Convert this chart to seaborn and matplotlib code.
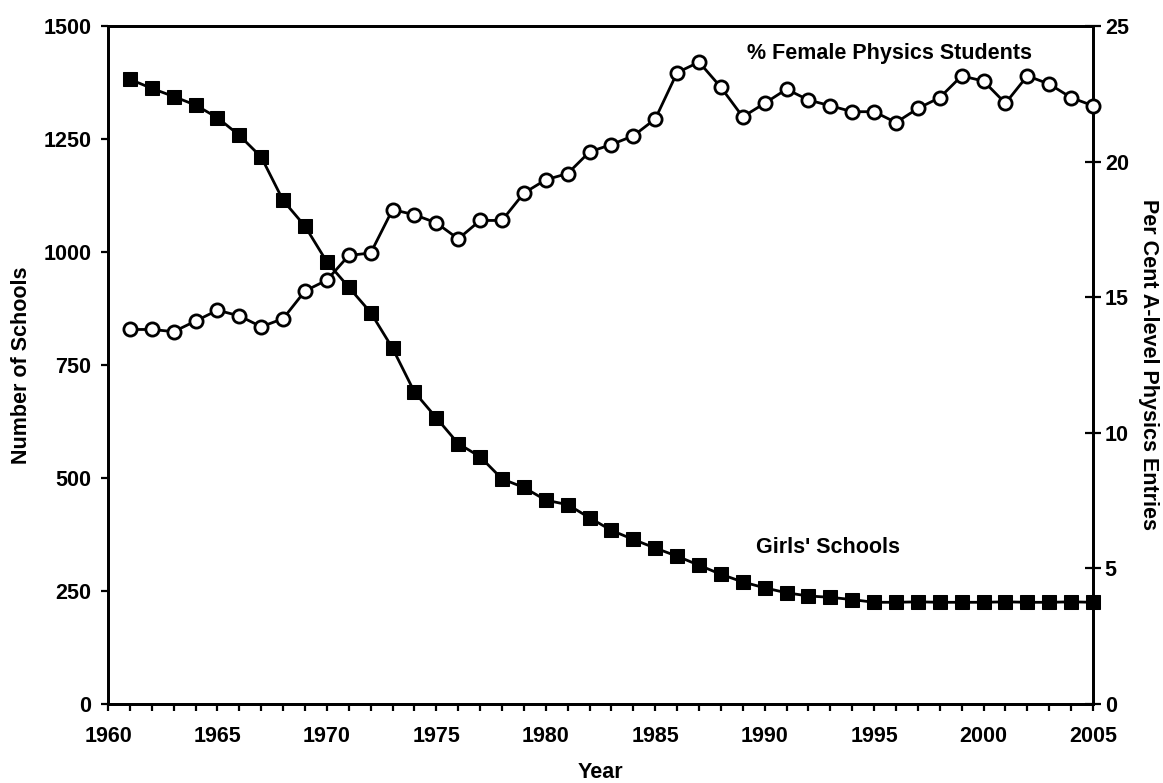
import numpy as np
import matplotlib
matplotlib.use('Agg')
import matplotlib.pyplot as plt
import seaborn as sns
import pandas as pd
from matplotlib.ticker import MultipleLocator

#%% data
years = list(range(1961, 2006))
girls_schools = [1382, 1362, 1344, 1325, 1297, 1258, 1210, 1114, 1057, 978,
                 922, 866, 787, 690, 633, 576, 547, 498, 479, 451,
                 441, 412, 384, 364, 345, 327, 307, 287, 270, 257,
                 246, 239, 236, 231, 225, 225, 226, 225, 225, 225,
                 226, 225, 225, 226, 225]
pct_female = [13.81, 13.81, 13.73, 14.12, 14.52, 14.31, 13.91, 14.21, 15.23, 15.63,
              16.54, 16.63, 18.23, 18.04, 17.74, 17.15, 17.83, 17.83, 18.84, 19.33,
              19.56, 20.36, 20.63, 20.95, 21.57, 23.28, 23.67, 22.74, 21.65, 22.15,
              22.67, 22.27, 22.06, 21.84, 21.84, 21.44, 21.96, 22.36, 23.16, 22.97,
              22.15, 23.16, 22.86, 22.36, 22.06]

df = pd.DataFrame({'year': years, 'schools': girls_schools, 'pct': pct_female})

#%% style
sns.set_theme(style='white')
plt.rcParams['font.family'] = ['Liberation Sans', 'DejaVu Sans']
plt.rcParams['font.weight'] = 'bold'
plt.rcParams['axes.labelweight'] = 'bold'
for k in ['text.color', 'axes.labelcolor', 'xtick.color', 'ytick.color']:
    plt.rcParams[k] = 'black'
fs = 15.5

fig = plt.figure(figsize=(11.63, 7.83), dpi=100)
ax = fig.add_axes([0.0929, 0.1009, 0.8469, 0.8659])
ax2 = ax.twinx()

sns.lineplot(data=df, x='year', y='schools', ax=ax, color='black', lw=2,
             marker='s', markersize=9.5, markerfacecolor='black',
             markeredgecolor='black', clip_on=False, zorder=5)
sns.lineplot(data=df, x='year', y='pct', ax=ax2, color='black', lw=2,
             marker='o', markersize=9.5, markerfacecolor='white',
             markeredgecolor='black', markeredgewidth=2, clip_on=False, zorder=5)

ax.set_xlim(1960, 2005)
ax.set_ylim(0, 1500)
ax2.set_ylim(0, 25)
ax.xaxis.set_major_locator(MultipleLocator(5))
ax.xaxis.set_minor_locator(MultipleLocator(1))
ax.yaxis.set_major_locator(MultipleLocator(250))
ax2.yaxis.set_major_locator(MultipleLocator(5))

for a in (ax, ax2):
    for s in a.spines.values():
        s.set_linewidth(2)
        s.set_color('black')

ax.tick_params(axis='x', which='both', direction='out', length=5, width=1.6,
               pad=11, labelsize=fs, bottom=True, colors='black')
ax.tick_params(axis='y', direction='out', length=5, width=1.6, pad=7,
               labelsize=fs, left=True, colors='black')
ax2.tick_params(axis='y', direction='inout', length=11, width=1.6, pad=3,
                labelsize=fs, right=True, colors='black')
for lab in ax.get_xticklabels() + ax.get_yticklabels() + ax2.get_yticklabels():
    lab.set_fontweight('bold')

ax.set_xlabel('Year', fontsize=fs, labelpad=11)
ax.set_ylabel('Number of Schools', fontsize=fs, labelpad=8)
ax2.set_ylabel('Per Cent A-level Physics Entries', fontsize=fs,
               rotation=270, labelpad=22)

ax2.text(1989.2, 24.0, '% Female Physics Students', fontsize=fs,
         fontweight='bold', va='center', ha='left')
ax.text(1989.6, 347, "Girls' Schools", fontsize=fs, fontweight='bold',
        va='center', ha='left')

fig.savefig('out.png', dpi=100)
